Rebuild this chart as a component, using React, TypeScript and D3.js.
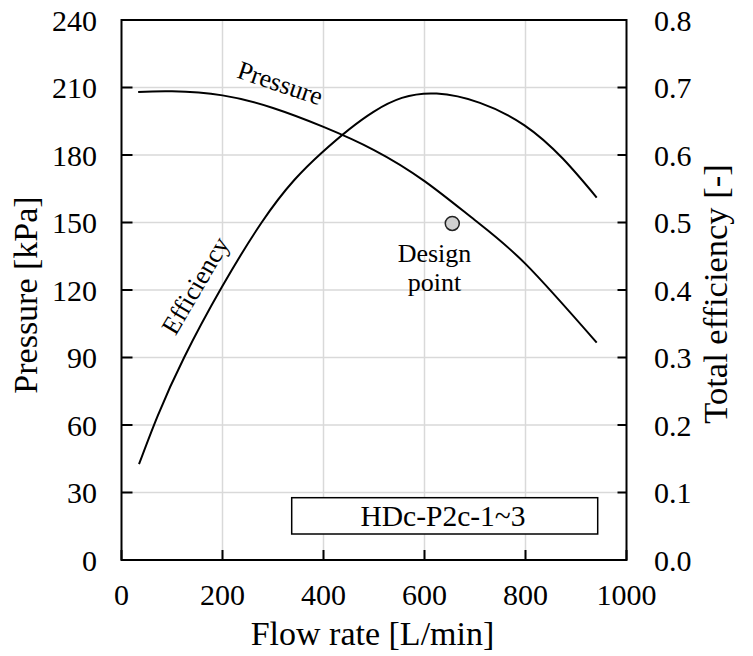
import React from "react";
import * as d3 from "d3";

const xTicks = [0, 200, 400, 600, 800, 1000];
const pTicks = [0, 30, 60, 90, 120, 150, 180, 210, 240];
const eTicks = [0, 0.1, 0.2, 0.3, 0.4, 0.5, 0.6, 0.7, 0.8];

const pressureFlow = [33, 100, 200, 300, 400, 500, 600, 700, 800, 941];
const pressureVals = [208.0, 208.3, 206.5, 200.9, 192.5, 182.2, 168.4, 151.0, 131.6, 96.6];

const effFlow = [34.7, 124, 277.5, 396, 499, 624, 798, 941];
const effVals = [0.142, 0.3, 0.5, 0.603, 0.664, 0.691, 0.644, 0.537];

const designPoint = { flow: 655, pressure: 149.6 };
const boxLabel = "HDc-P2c-1~3";

const W = 753;
const H = 656;
const L = 121.5, R = 626.5, T = 20, B = 560;
const FONT = '"Liberation Serif", "Times New Roman", "DejaVu Serif", serif';

export default function App() {
  const x = d3.scaleLinear().domain([0, 1000]).range([L, R]);
  const yP = d3.scaleLinear().domain([0, 240]).range([B, T]);
  const yE = d3.scaleLinear().domain([0, 0.8]).range([B, T]);

  const pLine = d3
    .line<number>()
    .x((_, i) => x(pressureFlow[i]))
    .y((d) => yP(d))
    .curve(d3.curveNatural);
  const eLine = d3
    .line<number>()
    .x((_, i) => x(effFlow[i]))
    .y((d) => yE(d))
    .curve(d3.curveNatural);

  const grid = "#d9d9d9";
  const ts = { fontFamily: FONT };

  return (
    <svg
      width={W}
      height={H}
      style={{ position: "absolute", left: 0, top: 0, background: "#fff", fontFamily: FONT }}
    >
      <rect x={0} y={0} width={W} height={H} fill="#fff" />
      {/* grid */}
      {xTicks.slice(1, -1).map((t) => (
        <line key={"gx" + t} x1={x(t)} x2={x(t)} y1={T} y2={B} stroke={grid} strokeWidth={1.5} />
      ))}
      {pTicks.slice(1, -1).map((t) => (
        <line key={"gy" + t} x1={L} x2={R} y1={yP(t)} y2={yP(t)} stroke={grid} strokeWidth={1.5} />
      ))}
      {/* ticks */}
      {xTicks.map((t) => (
        <line key={"tx" + t} x1={x(t)} x2={x(t)} y1={B} y2={B - 10} stroke="#000" strokeWidth={2} />
      ))}
      {pTicks.map((t) => (
        <line key={"tl" + t} x1={L} x2={L + 11} y1={yP(t)} y2={yP(t)} stroke="#000" strokeWidth={2} />
      ))}
      {eTicks.map((t) => (
        <line key={"tr" + t} x1={R} x2={R - 9} y1={yE(t)} y2={yE(t)} stroke="#000" strokeWidth={2} />
      ))}
      {/* curves */}
      <path d={pLine(pressureVals) || ""} fill="none" stroke="#000" strokeWidth={2} />
      <path d={eLine(effVals) || ""} fill="none" stroke="#000" strokeWidth={2} />
      {/* border */}
      <rect x={L} y={T} width={R - L} height={B - T} fill="none" stroke="#000" strokeWidth={2} />
      {/* design point */}
      <circle cx={x(designPoint.flow)} cy={yP(designPoint.pressure)} r={7} fill="#d0d0d0" stroke="#222" strokeWidth={1.5} />
      <text style={ts} x={434.5} y={262.3} fontSize={26} textAnchor="middle">Design</text>
      <text style={ts} x={434.5} y={290.5} fontSize={26} textAnchor="middle">point</text>
      {/* curve labels */}
      <text style={ts} transform="translate(280,84) rotate(18.7)" fontSize={26} textAnchor="middle" dy="0.3em">Pressure</text>
      <text style={ts} transform="translate(196,286) rotate(-59.5)" fontSize={26} textAnchor="middle" dy="0.3em">Efficiency</text>
      {/* box */}
      <rect x={291.7} y={497.7} width={306} height={36.3} fill="#fff" stroke="#000" strokeWidth={1.5} />
      <text style={ts} x={443} y={516} fontSize={29.5} textAnchor="middle" dy="0.35em">{boxLabel}</text>
      {/* tick labels */}
      {xTicks.map((t) => (
        <text style={ts} key={"lx" + t} x={x(t)} y={605} fontSize={30} textAnchor="middle">{t}</text>
      ))}
      {pTicks.map((t) => (
        <text style={ts} key={"lp" + t} x={97} y={yP(t)} dy="0.35em" fontSize={30} textAnchor="end">{t}</text>
      ))}
      {eTicks.map((t) => (
        <text style={ts} key={"le" + t} x={654} y={yE(t)} dy="0.35em" fontSize={30} textAnchor="start">{t.toFixed(1)}</text>
      ))}
      {/* axis titles */}
      <text style={ts} x={372.5} y={645} fontSize={34} textAnchor="middle">Flow rate [L/min]</text>
      <text style={ts} transform="translate(37,295) rotate(-90)" fontSize={34} textAnchor="middle">Pressure [kPa]</text>
      <text style={ts} transform="translate(727,294) rotate(-90)" fontSize={34.5} textAnchor="middle">Total efficiency [-]</text>
    </svg>
  );
}
